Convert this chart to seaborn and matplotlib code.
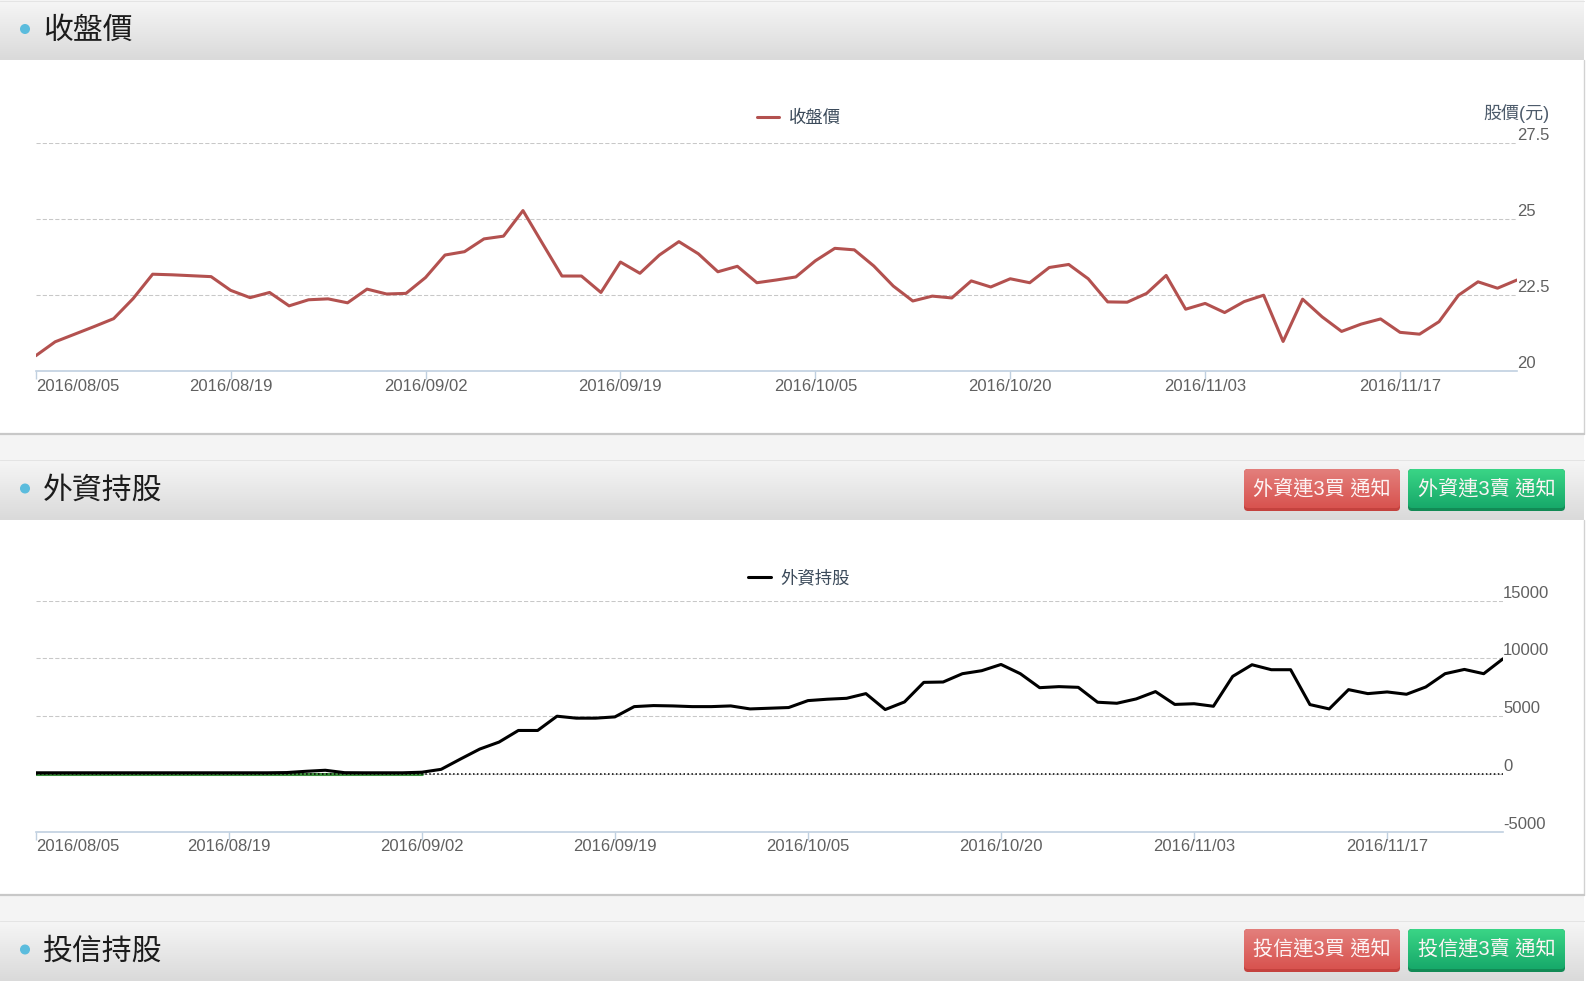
import numpy as np
import pandas as pd
import seaborn as sns
import matplotlib.pyplot as plt
import matplotlib.colors as mcolors
from matplotlib.patches import FancyBboxPatch, Rectangle, Circle

W, H = 1587, 992

# x tick labels (every 10 trading days)
tick_dates = ['2016/08/05', '2016/08/19', '2016/09/02', '2016/09/19',
              '2016/10/05', '2016/10/20', '2016/11/03', '2016/11/17']

# 收盤價 (77 trading days)
close_price = [20.50, 20.96, 21.21, 21.46, 21.72, 22.38, 23.18, 23.16, 23.13, 23.10,
               22.65, 22.41, 22.58, 22.14, 22.34, 22.37, 22.24, 22.69, 22.53, 22.55,
               23.07, 23.81, 23.92, 24.34, 24.43, 25.27, 24.19, 23.12, 23.12, 22.58,
               23.58, 23.21, 23.81, 24.25, 23.85, 23.26, 23.44, 22.90, 22.99, 23.09,
               23.62, 24.03, 23.98, 23.45, 22.79, 22.30, 22.46, 22.40, 22.96, 22.76,
               23.03, 22.90, 23.40, 23.50, 23.03, 22.27, 22.26, 22.55, 23.14, 22.03,
               22.22, 21.92, 22.28, 22.49, 20.97, 22.36, 21.78, 21.30, 21.54, 21.71,
               21.27, 21.21, 21.62, 22.49, 22.93, 22.72, 22.99]

# 外資持股
foreign_hold = [100, 100, 100, 100, 100, 100, 100, 100, 100, 100,
                100, 100, 100, 120, 230, 320, 110, 100, 100, 100,
                150, 400, 1290, 2155, 2760, 3765, 3765, 5000, 4830, 4830,
                4940, 5830, 5920, 5890, 5830, 5830, 5890, 5630, 5690, 5750,
                6350, 6470, 6550, 6955, 5575, 6235, 7930, 7960, 8680, 8940,
                9480, 8680, 7470, 7560, 7500, 6210, 6120, 6495, 7130, 6020,
                6080, 5860, 8450, 9455, 9025, 9025, 6005, 5630, 7300, 6955,
                7100, 6900, 7530, 8680, 9050, 8680, 9970]

# green base series shown under the black line at the start
green_base = [0, 0, 0, 0, 0, 0, 0, 0, 0, 0, 0, 0, 0, 0, 0, 0, 0, 0, 0, 0, 0]

price_ticks = [20, 22.5, 25, 27.5]
price_tick_labels = ['20', '22.5', '25', '27.5']
hold_ticks = [-5000, 0, 5000, 10000, 15000]
hold_tick_labels = ['-5000', '0', '5000', '10000', '15000']

df = pd.DataFrame({'day': range(len(close_price)),
                   'price': close_price,
                   'foreign': foreign_hold})
df_green = pd.DataFrame({'day': range(len(green_base)), 'v': green_base})

sns.set_style('white')
plt.rcParams['font.family'] = ['Liberation Sans', 'Noto Sans CJK TC']

fig = plt.figure(figsize=(W / 100, H / 100), dpi=100)
fig.patch.set_facecolor('white')

# page background in pixel coords
bg = fig.add_axes([0, 0, 1, 1])
bg.set_autoscale_on(False)
bg.set_xlim(0, W)
bg.set_ylim(H, 0)
bg.axis('off')


def gradient(x0, y0, x1, y1, c_top, c_bot, z=1, clip=None):
    c0 = np.array(mcolors.to_rgb(c_top))
    c1 = np.array(mcolors.to_rgb(c_bot))
    t = np.linspace(0, 1, 64)[:, None]
    img = (c0 * (1 - t) + c1 * t)[:, None, :]
    im = bg.imshow(img, extent=(x0, x1, y1, y0), aspect='auto', zorder=z,
                   interpolation='bilinear')
    if clip is not None:
        im.set_clip_path(clip)


def header(y0, y1, title):
    gradient(0, y0, 1584, y1, '#f6f6f6', '#dadada', z=1)
    bg.plot([0, 1584], [y0 + 0.5, y0 + 0.5], color='#e4e4e4', lw=0.8, zorder=2)
    bg.add_patch(Circle((25, (y0 + y1) / 2 - 1), 4.3, color='#5bbcdd', zorder=3))
    bg.text(43, (y0 + y1) / 2 + 1, title, fontsize=21.5, color='#1c1c1c',
            va='center', ha='left', zorder=3)


def button(x0, x1, y0, y1, c_top, c_bot, c_edge, label):
    base = FancyBboxPatch((x0, y0), x1 - x0, y1 - y0,
                          boxstyle='round,pad=0,rounding_size=4',
                          fc=c_edge, ec='none', zorder=5)
    bg.add_patch(base)
    face = FancyBboxPatch((x0, y0), x1 - x0, y1 - y0 - 3,
                          boxstyle='round,pad=0,rounding_size=4',
                          fc='none', ec='none', zorder=6)
    bg.add_patch(face)
    gradient(x0, y0, x1, y1 - 3, c_top, c_bot, z=6, clip=face)
    bg.text((x0 + x1) / 2, (y0 + y1) / 2 - 1.5, label, fontsize=14.5,
            color='#fdf5f5', ha='center', va='center', zorder=7)


def panel(y0, y1):
    bg.add_patch(Rectangle((0, y0), 1584, y1 - y0, fc='white', ec='none', zorder=1))
    bg.plot([1583.5, 1583.5], [y0, y1], color='#d2d2d2', lw=1, zorder=2)
    bg.plot([0, 1584], [y1, y1], color='#c8c8c8', lw=1.6, zorder=2)


def gap(y0, y1):
    bg.add_patch(Rectangle((0, y0), 1584, y1 - y0, fc='#f4f4f4', ec='none', zorder=1))


header(0, 60, '收盤價')
panel(60, 434)
gap(435, 459)
header(459, 520, '外資持股')
panel(520, 895)
gap(896, 920)
header(920, 981, '投信持股')

button(1244, 1400, 469, 511, '#e37f7c', '#d8534f', '#c4423e', '外資連3買 通知')
button(1408, 1565, 469, 511, '#3ad586', '#17a96a', '#128a55', '外資連3賣 通知')
button(1244, 1400, 929, 972, '#e37f7c', '#d8534f', '#c4423e', '投信連3買 通知')
button(1408, 1565, 929, 972, '#3ad586', '#17a96a', '#128a55', '投信連3賣 通知')

bg.text(1483, 114, '股價(元)', fontsize=13, color='#4d5b6b', va='center', ha='left', zorder=3)

grid_kw = dict(color='#c8c8c8', linewidth=0.75, linestyle=(0, (4, 2)))
axis_col = '#c0d0e0'
label_col = '#606060'


def style_axis(ax, yticks, ylabels):
    ax.set_facecolor('none')
    ax.set_xlim(0, len(close_price) - 1)
    ax.set_xlabel('')
    ax.set_ylabel('')
    for s in ['top', 'left', 'right']:
        ax.spines[s].set_visible(False)
    ax.spines['bottom'].set_color(axis_col)
    ax.spines['bottom'].set_linewidth(1.2)
    ax.spines['bottom'].set_zorder(5)
    ax.set_yticks(yticks)
    ax.set_yticklabels(ylabels)
    ax.yaxis.tick_right()
    ax.tick_params(axis='y', length=0, pad=0, labelsize=12, labelcolor=label_col,
                   right=False, left=False, labelright=True, labelleft=False)
    for lbl in ax.get_yticklabels():
        lbl.set_va('bottom')
    ax.grid(axis='y', **grid_kw)
    ax.grid(axis='x', visible=False)
    ax.set_axisbelow(True)
    ax.set_xticks(range(0, 71, 10))
    ax.set_xticklabels(tick_dates)
    ax.tick_params(axis='x', bottom=True, length=6, width=1, color=axis_col,
                   labelsize=12, labelcolor=label_col, pad=-0.5)
    ax.get_xticklabels()[0].set_ha('left')


# price chart
ax1 = fig.add_axes([35.7 / W, 1 - 371 / H, (1517 - 35.7) / W, (371 - 142.7) / H])
sns.lineplot(data=df, x='day', y='price', ax=ax1, color='#b3514f',
             linewidth=2.2, label='收盤價')
ax1.set_ylim(20, 27.5)
style_axis(ax1, price_ticks, price_tick_labels)
ax1.legend(loc='center', bbox_to_anchor=(799 / W, 1 - 117.5 / H),
           bbox_transform=fig.transFigure, frameon=False, fontsize=12.5,
           handlelength=1.3, handletextpad=0.55, labelcolor='#3b4a5a')

# foreign holdings chart
ax2 = fig.add_axes([35.7 / W, 1 - 831.7 / H, (1503 - 35.7) / W, (831.7 - 600.7) / H])
sns.lineplot(data=df_green, x='day', y='v', ax=ax2, color='#3d8f3d', linewidth=2.2)
ax2.axhline(0, color='black', linewidth=1.1, linestyle=(0, (1, 1.6)), zorder=2)
sns.lineplot(data=df, x='day', y='foreign', ax=ax2, color='black',
             linewidth=2.2, label='外資持股')
ax2.set_ylim(-5000, 15000)
style_axis(ax2, hold_ticks, hold_tick_labels)
black_line = ax2.get_lines()[-1]
ax2.legend(handles=[black_line], labels=['外資持股'], loc='center',
           bbox_to_anchor=(799 / W, 1 - 578 / H),
           bbox_transform=fig.transFigure, frameon=False, fontsize=12.5,
           handlelength=1.3, handletextpad=0.55, labelcolor='#3b4a5a')

fig.savefig('out.png', dpi=100)
